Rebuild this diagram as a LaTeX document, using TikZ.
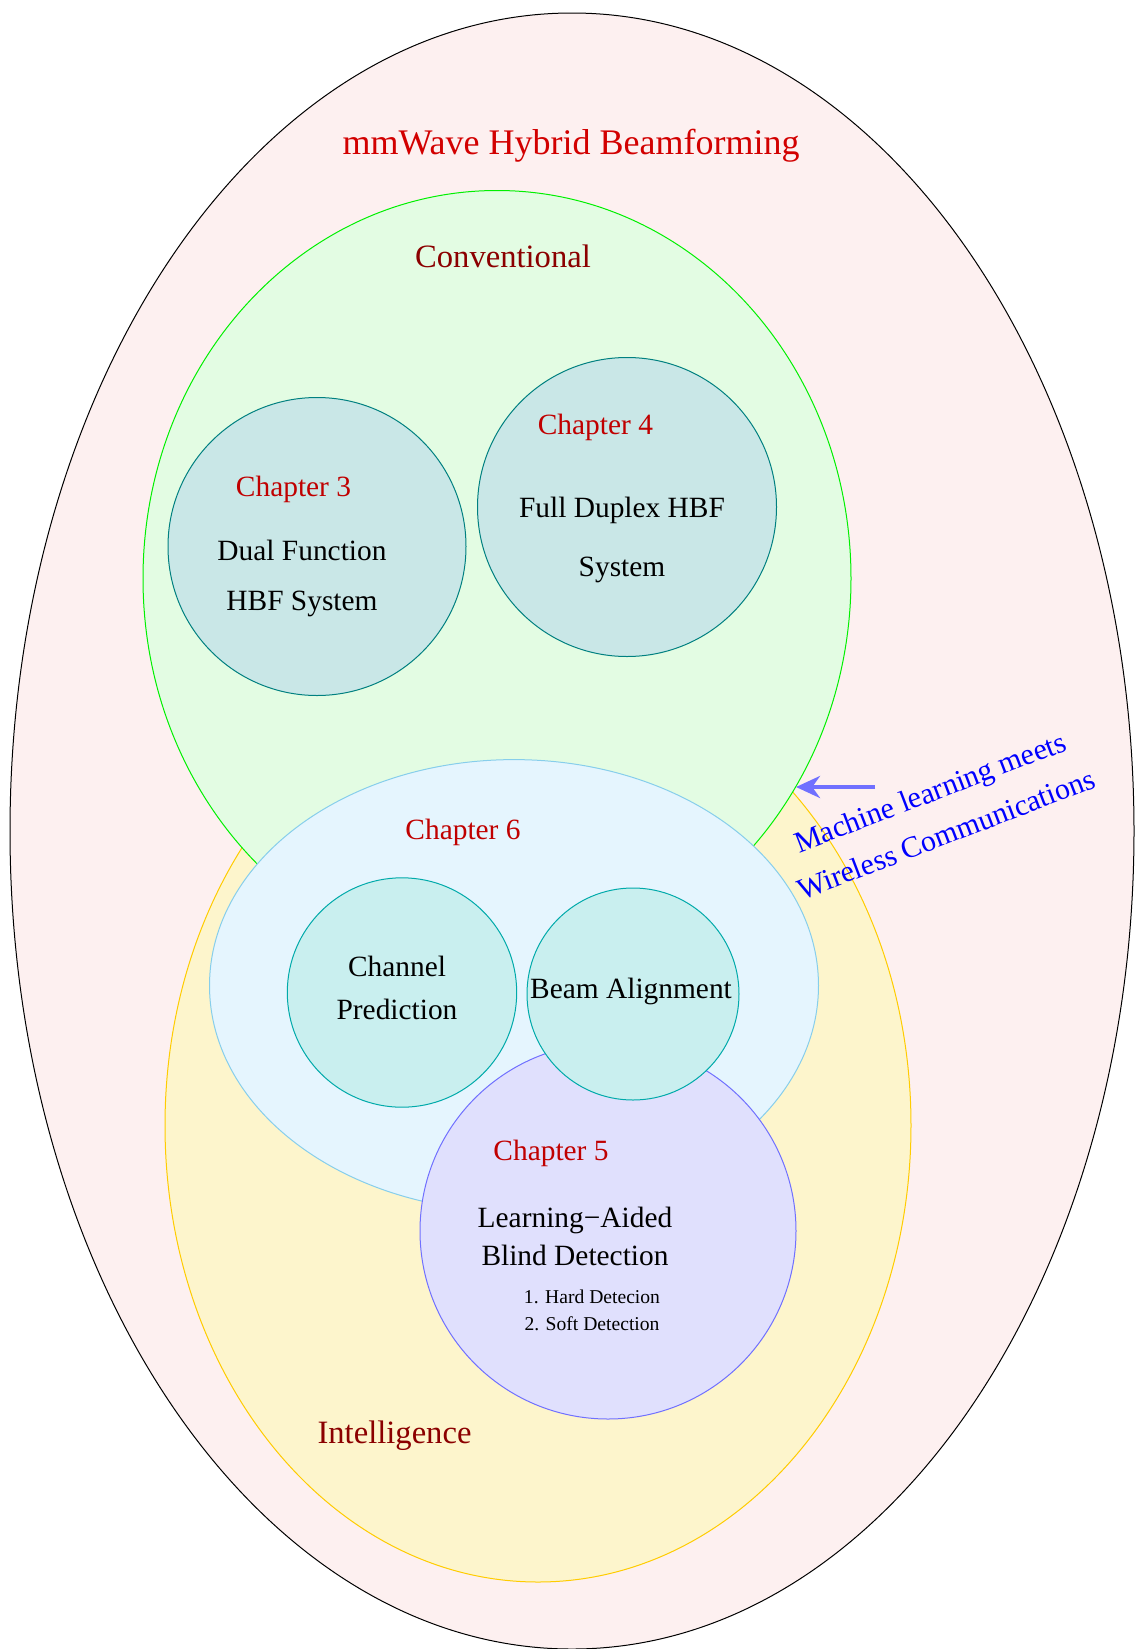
\documentclass[tikz,border=0pt]{standalone}
\usepackage{fontspec}
\setmainfont{Liberation Serif}
\usetikzlibrary{arrows.meta}
\definecolor{pinkfill}{RGB}{253,240,240}
\definecolor{greenfill}{RGB}{227,252,227}
\definecolor{greenline}{RGB}{0,240,0}
\definecolor{yellowfill}{RGB}{253,245,204}
\definecolor{yellowline}{RGB}{255,204,0}
\definecolor{bluefill}{RGB}{229,245,254}
\definecolor{blueline}{RGB}{135,206,235}
\definecolor{tealfill}{RGB}{201,231,231}
\definecolor{tealline}{RGB}{0,128,128}
\definecolor{cyanfill}{RGB}{201,239,239}
\definecolor{cyanline}{RGB}{0,170,170}
\definecolor{purplefill}{RGB}{224,224,253}
\definecolor{purpleline}{RGB}{112,112,255}
\definecolor{titlered}{RGB}{210,0,0}
\definecolor{darkred}{RGB}{139,0,0}
\definecolor{chapred}{RGB}{192,0,0}
\definecolor{arrowblue}{RGB}{112,112,255}
\begin{document}
\begin{tikzpicture}[x=0.5pt,y=-0.5pt,
  region/.style={line width=0.5pt},
  txt/.style={inner sep=0pt, align=center, font=\fontsize{14.7}{25}\selectfont},
  chap/.style={txt, text=chapred},
  grp/.style={inner sep=0pt, text=darkred, font=\fontsize{16.3}{20}\selectfont}]
\useasboundingbox (0,0) rectangle (1135,1649);
% regions
\filldraw[region, draw=black, fill=pinkfill] (572,831) ellipse [x radius=562, y radius=818];
\filldraw[region, draw=yellowline, fill=yellowfill] (538,1125.5) ellipse [x radius=373, y radius=456.5];
\filldraw[region, draw=greenline, fill=greenfill] (497,578.5) ellipse [x radius=354, y radius=388];
\filldraw[region, draw=blueline, fill=bluefill] (514,985.6) ellipse [x radius=304.5, y radius=226];
\filldraw[region, draw=tealline, fill=tealfill] (317,546.5) circle [radius=149];
\filldraw[region, draw=tealline, fill=tealfill] (627,507) circle [radius=149.5];
\filldraw[region, draw=cyanline, fill=cyanfill] (402,992.5) circle [radius=114.7];
\filldraw[region, draw=purpleline, fill=purplefill] (608,1231) circle [radius=188];
\filldraw[region, draw=cyanline, fill=cyanfill] (633,994) circle [radius=106];
% labels
\node[inner sep=0pt, text=titlered, font=\fontsize{18}{22}\selectfont] (title) at (571,146) {mmWave Hybrid Beamforming};
\node[grp] (conv) at (503,256) {Conventional};
\node[grp] (intel) at (394.5,1436) {Intelligence};
\node[chap] (ch3) at (293.5,489) {Chapter 3};
\node[txt] (ch3t) at (302,578) {Dual Function\\HBF System};
\node[chap] (ch4) at (595.4,427) {Chapter 4};
\node[txt, font=\fontsize{14.7}{29.5}\selectfont] (ch4t) at (622,540) {Full Duplex HBF\\System};
\node[chap] (ch6) at (463,832) {Chapter 6};
\node[txt, font=\fontsize{14.7}{21.5}\selectfont] (chp) at (397,988) {Channel\\Prediction};
\node[txt] (beam) at (631,991) {Beam Alignment};
\node[chap] (ch5) at (551,1153) {Chapter 5};
\node[txt, font=\fontsize{14.7}{19}\selectfont] (ch5t) at (575,1236) {Learning−Aided\\Blind Detection};
\node[txt, font=\fontsize{9.8}{13.5}\selectfont] (ch5l) at (592,1310) {1. Hard Detecion\\2. Soft Detection};
% annotation
\node[inner sep=0pt, align=center, text=blue, rotate=21, font=\fontsize{15}{22.5}\selectfont] (ml) at (938,813) {Machine learning meets\\Wireless Communications};
\coordinate (atail) at (875,787);
\coordinate (ahead) at (796,787);
\draw[arrowblue, line width=2pt, -{Stealth[length=12pt,width=11pt]}] (atail) -- (ahead);
\end{tikzpicture}
\end{document}
